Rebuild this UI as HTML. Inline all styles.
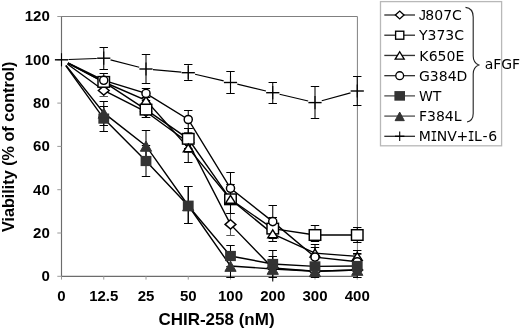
<!DOCTYPE html>
<html><head><meta charset="utf-8"><title>CHIR-258 viability</title>
<style>html,body{margin:0;padding:0;background:#fff}body{width:520px;height:330px;overflow:hidden}svg{display:block}</style></head>
<body>
<svg width="520" height="330" viewBox="0 0 520 330">
<rect width="520" height="330" fill="#fff"/>
<path d="M61.5 16.5H357.4V276.3" stroke="#808080" stroke-width="1" fill="none"/>
<path d="M61.5 16V276.3H357.9" stroke="#6c6c6c" stroke-width="1.15" fill="none"/>
<path d="M57.3 276.3H61.5M57.3 233H61.5M57.3 189.7H61.5M57.3 146.4H61.5M57.3 103.1H61.5M57.3 59.8H61.5M57.3 16.5H61.5M61.5 276.3V279.6M103.75 276.3V279.6M146 276.3V279.6M188.25 276.3V279.6M230.5 276.3V279.6M272.75 276.3V279.6M315 276.3V279.6M357.25 276.3V279.6" stroke="#9a9a9a" stroke-width="1" fill="none"/>
<polyline fill="none" stroke="#000" stroke-width="1.4" points="67.32,64.03 103.75,90.5 146,111.8 188.25,142.5 230.5,224.4 272.75,268 315,271.3 357.25,270"/>
<polyline fill="none" stroke="#000" stroke-width="1.4" points="67.88,63.14 103.75,81.9 146,109.6 188.25,138.8 230.5,199.3 272.75,228.6 315,235 357.25,235"/>
<polyline fill="none" stroke="#000" stroke-width="1.4" points="67.87,63.15 103.75,82 146,100.4 188.25,147.9 230.5,199.3 272.75,233.8 315,253.1 357.25,256.4"/>
<polyline fill="none" stroke="#000" stroke-width="1.4" points="67.98,62.94 103.75,80.3 146,93.4 188.25,119.5 230.5,188.3 272.75,221.6 315,257.1 357.25,261.8"/>
<polyline fill="none" stroke="#000" stroke-width="1.4" points="65.7,65.65 103.75,118.6 146,161 188.25,205.7 230.5,256 272.75,264 315,266.4 357.25,266"/>
<polyline fill="none" stroke="#000" stroke-width="1.4" points="65.98,65.43 103.75,112.9 146,145.9 188.25,205.5 230.5,266 272.75,269 315,271.3 357.25,270"/>
<path fill="none" stroke="#000" stroke-width="1.15" d="M68.49 59.54L96.76 58.46M110.53 59.93L139.22 67.27M152.97 69.61L181.28 72.09M195.07 74.28L223.68 80.92M237.3 84.14L265.95 91.06M279.57 94.3L308.18 101M321.75 100.75L350.5 92.85"/>
<path d="M103.75 84.4V96.1M99.55 84.5H107.95M99.55 96.5H107.95M146 105.5V117.6M141.8 105.5H150.2M141.8 117.5H150.2M188.25 132.5V152.8M184.05 132.5H192.45M184.05 152.5H192.45M230.5 213.2V235.4M226.3 213.5H234.7M226.3 235.5H234.7M272.75 262V272M268.55 262.5H276.95M268.55 272.5H276.95M315 264V276M310.8 264.5H319.2M310.8 276.5H319.2M357.25 254.1V277.3M353.05 254.5H361.45M353.05 277.5H361.45" stroke="#555" stroke-width="1.05" fill="none"/>
<path d="M103.75 76V87.4M99.55 76.5H107.95M99.55 87.5H107.95M146 100.9V117.5M141.8 100.5H150.2M141.8 117.5H150.2M188.25 128.2V148.6M184.05 128.5H192.45M184.05 148.5H192.45M230.5 184.6V213.2M226.3 184.5H234.7M226.3 213.5H234.7M272.75 217.2V241M268.55 217.5H276.95M268.55 241.5H276.95M315 225.4V241.8M310.8 225.5H319.2M310.8 241.5H319.2M357.25 227.5V242.1M353.05 227.5H361.45M353.05 242.5H361.45" stroke="#000" stroke-width="1.05" fill="none"/>
<path d="M146 97V103M141.8 97.5H150.2M141.8 103.5H150.2M188.25 128.2V162M184.05 128.5H192.45M184.05 162.5H192.45M230.5 195V204M226.3 195.5H234.7M226.3 204.5H234.7M272.75 228V238M268.55 228.5H276.95M268.55 238.5H276.95M315 247.4V259.2M310.8 247.5H319.2M310.8 259.5H319.2M357.25 250.2V262.8M353.05 250.5H361.45M353.05 262.5H361.45" stroke="#000" stroke-width="1.05" fill="none"/>
<path d="M103.75 73V87.4M99.55 73.5H107.95M99.55 87.5H107.95M146 88.3V97.7M141.8 88.5H150.2M141.8 97.5H150.2M188.25 110.4V128.2M184.05 110.5H192.45M184.05 128.5H192.45M230.5 172.7V203.7M226.3 172.5H234.7M226.3 203.5H234.7M272.75 205.4V237.2M268.55 205.5H276.95M268.55 237.5H276.95M315 244.8V269M310.8 244.5H319.2M310.8 269.5H319.2M357.25 253.7V269.9M353.05 253.5H361.45M353.05 269.5H361.45" stroke="#000" stroke-width="1.05" fill="none"/>
<path d="M103.75 106V131.4M99.55 106.5H107.95M99.55 131.5H107.95M146 145.6V176.4M141.8 145.5H150.2M141.8 176.5H150.2M188.25 186.9V223.9M184.05 186.5H192.45M184.05 223.5H192.45M230.5 245.4V266.6M226.3 245.5H234.7M226.3 266.5H234.7M272.75 250.5V277.5M268.55 250.5H276.95M268.55 277.5H276.95M315 258V275M310.8 258.5H319.2M310.8 275.5H319.2M357.25 258V274M353.05 258.5H361.45M353.05 274.5H361.45" stroke="#000" stroke-width="1.05" fill="none"/>
<path d="M103.75 101V125.8M99.55 101.5H107.95M99.55 125.5H107.95M146 130.2V162.8M141.8 130.5H150.2M141.8 162.5H150.2M188.25 186.9V223.9M184.05 186.5H192.45M184.05 223.5H192.45M230.5 254.5V277.5M226.3 254.5H234.7M226.3 277.5H234.7M272.75 256V281.4M268.55 256.5H276.95M315 265V277.5M310.8 265.5H319.2M310.8 277.5H319.2M357.25 263V277.5M353.05 263.5H361.45M353.05 277.5H361.45" stroke="#000" stroke-width="1.05" fill="none"/>
<path d="M103.75 47V69.8M99.55 47.5H107.95M99.55 69.5H107.95M146 54.6V83.4M141.8 54.5H150.2M141.8 83.5H150.2M188.25 64.4V80.9M184.05 64.5H192.45M184.05 80.5H192.45M230.5 71.2V93.7M226.3 71.5H234.7M226.3 93.5H234.7M272.75 82.1V103.3M268.55 82.5H276.95M268.55 103.5H276.95M315 86.9V118.8M310.8 86.5H319.2M310.8 118.5H319.2M357.25 76V105.7M353.05 76.5H361.45M353.05 105.5H361.45" stroke="#000" stroke-width="1.05" fill="none"/>
<path d="M98.35 90.5L103.75 85.9L109.15 90.5L103.75 95.1Z" fill="#fff" stroke="#000" stroke-width="1.45"/>
<path d="M140.6 111.8L146 107.2L151.4 111.8L146 116.4Z" fill="#fff" stroke="#000" stroke-width="1.45"/>
<path d="M182.85 142.5L188.25 137.9L193.65 142.5L188.25 147.1Z" fill="#fff" stroke="#000" stroke-width="1.45"/>
<path d="M225.1 224.4L230.5 219.8L235.9 224.4L230.5 229Z" fill="#fff" stroke="#000" stroke-width="1.45"/>
<path d="M267.35 268L272.75 263.4L278.15 268L272.75 272.6Z" fill="#fff" stroke="#000" stroke-width="1.45"/>
<path d="M309.6 271.3L315 266.7L320.4 271.3L315 275.9Z" fill="#fff" stroke="#000" stroke-width="1.45"/>
<path d="M351.85 270L357.25 265.4L362.65 270L357.25 274.6Z" fill="#fff" stroke="#000" stroke-width="1.45"/>
<rect x="98" y="76.6" width="11.5" height="10.6" fill="#fff" stroke="#000" stroke-width="1.45"/>
<rect x="140.25" y="104.3" width="11.5" height="10.6" fill="#fff" stroke="#000" stroke-width="1.45"/>
<rect x="182.5" y="133.5" width="11.5" height="10.6" fill="#fff" stroke="#000" stroke-width="1.45"/>
<rect x="224.75" y="194" width="11.5" height="10.6" fill="#fff" stroke="#000" stroke-width="1.45"/>
<rect x="267" y="223.3" width="11.5" height="10.6" fill="#fff" stroke="#000" stroke-width="1.45"/>
<rect x="309.25" y="229.7" width="11.5" height="10.6" fill="#fff" stroke="#000" stroke-width="1.45"/>
<rect x="351.5" y="229.7" width="11.5" height="10.6" fill="#fff" stroke="#000" stroke-width="1.45"/>
<path d="M146 96.5L150.9 104.3L141.1 104.3Z" fill="#fff" stroke="#000" stroke-width="1.45"/>
<path d="M188.25 144L193.15 151.8L183.35 151.8Z" fill="#fff" stroke="#000" stroke-width="1.45"/>
<path d="M230.5 195.4L235.4 203.2L225.6 203.2Z" fill="#fff" stroke="#000" stroke-width="1.45"/>
<path d="M272.75 229.9L277.65 237.7L267.85 237.7Z" fill="#fff" stroke="#000" stroke-width="1.45"/>
<path d="M315 249.2L319.9 257L310.1 257Z" fill="#fff" stroke="#000" stroke-width="1.45"/>
<path d="M357.25 252.5L362.15 260.3L352.35 260.3Z" fill="#fff" stroke="#000" stroke-width="1.45"/>
<ellipse cx="103.75" cy="80.3" rx="4.05" ry="4.05" fill="#fff" stroke="#000" stroke-width="1.45"/>
<ellipse cx="146" cy="93.4" rx="4.05" ry="4.05" fill="#fff" stroke="#000" stroke-width="1.45"/>
<ellipse cx="188.25" cy="119.5" rx="4.05" ry="4.05" fill="#fff" stroke="#000" stroke-width="1.45"/>
<ellipse cx="230.5" cy="188.3" rx="4.05" ry="4.05" fill="#fff" stroke="#000" stroke-width="1.45"/>
<ellipse cx="272.75" cy="221.6" rx="4.05" ry="4.05" fill="#fff" stroke="#000" stroke-width="1.45"/>
<ellipse cx="315" cy="257.1" rx="4.05" ry="4.05" fill="#fff" stroke="#000" stroke-width="1.45"/>
<ellipse cx="357.25" cy="261.8" rx="4.05" ry="4.05" fill="#fff" stroke="#000" stroke-width="1.45"/>
<rect x="98.35" y="113.5" width="10.8" height="10.2" fill="#333"/>
<rect x="140.6" y="155.9" width="10.8" height="10.2" fill="#333"/>
<rect x="182.85" y="200.6" width="10.8" height="10.2" fill="#333"/>
<rect x="225.1" y="250.9" width="10.8" height="10.2" fill="#333"/>
<rect x="267.35" y="258.9" width="10.8" height="10.2" fill="#333"/>
<rect x="309.6" y="261.3" width="10.8" height="10.2" fill="#333"/>
<rect x="351.85" y="260.9" width="10.8" height="10.2" fill="#333"/>
<path d="M103.75 108.05L109.35 118.25L98.15 118.25Z" fill="#333" stroke="#333" stroke-width="1"/>
<path d="M146 141.05L151.6 151.25L140.4 151.25Z" fill="#333" stroke="#333" stroke-width="1"/>
<path d="M188.25 200.65L193.85 210.85L182.65 210.85Z" fill="#333" stroke="#333" stroke-width="1"/>
<path d="M230.5 261.15L236.1 271.35L224.9 271.35Z" fill="#333" stroke="#333" stroke-width="1"/>
<path d="M272.75 264.15L278.35 274.35L267.15 274.35Z" fill="#333" stroke="#333" stroke-width="1"/>
<path d="M315 266.45L320.6 276.65L309.4 276.65Z" fill="#333" stroke="#333" stroke-width="1"/>
<path d="M357.25 265.15L362.85 275.35L351.65 275.35Z" fill="#333" stroke="#333" stroke-width="1"/>
<path d="M54.9 59.8H68.1" stroke="#000" stroke-width="1.4" fill="none"/><path d="M61.5 53.2V66.4" stroke="#000" stroke-width="1.1" fill="none"/>
<path d="M97.15 58.2H110.35" stroke="#000" stroke-width="1.4" fill="none"/><path d="M103.75 51.6V64.8" stroke="#000" stroke-width="1.1" fill="none"/>
<path d="M139.4 69H152.6" stroke="#000" stroke-width="1.4" fill="none"/><path d="M146 62.4V75.6" stroke="#000" stroke-width="1.1" fill="none"/>
<path d="M181.65 72.7H194.85" stroke="#000" stroke-width="1.4" fill="none"/><path d="M188.25 66.1V79.3" stroke="#000" stroke-width="1.1" fill="none"/>
<path d="M223.9 82.5H237.1" stroke="#000" stroke-width="1.4" fill="none"/><path d="M230.5 75.9V89.1" stroke="#000" stroke-width="1.1" fill="none"/>
<path d="M266.15 92.7H279.35" stroke="#000" stroke-width="1.4" fill="none"/><path d="M272.75 86.1V99.3" stroke="#000" stroke-width="1.1" fill="none"/>
<path d="M308.4 102.6H321.6" stroke="#000" stroke-width="1.4" fill="none"/><path d="M315 96V109.2" stroke="#000" stroke-width="1.1" fill="none"/>
<path d="M350.65 91H363.85" stroke="#000" stroke-width="1.4" fill="none"/><path d="M357.25 84.4V97.6" stroke="#000" stroke-width="1.1" fill="none"/>
<g font-family="'Liberation Sans', Arial, sans-serif" font-weight="bold" font-size="15" fill="#000">
<text x="49.8" y="281.1" text-anchor="end">0</text>
<text x="49.8" y="237.8" text-anchor="end">20</text>
<text x="49.8" y="194.5" text-anchor="end">40</text>
<text x="49.8" y="151.2" text-anchor="end">60</text>
<text x="49.8" y="107.9" text-anchor="end">80</text>
<text x="49.8" y="64.6" text-anchor="end">100</text>
<text x="49.8" y="21.3" text-anchor="end">120</text>
<text x="61.5" y="301.3" text-anchor="middle">0</text>
<text x="103.75" y="301.3" text-anchor="middle">12.5</text>
<text x="146" y="301.3" text-anchor="middle">25</text>
<text x="188.25" y="301.3" text-anchor="middle">50</text>
<text x="230.5" y="301.3" text-anchor="middle">100</text>
<text x="272.75" y="301.3" text-anchor="middle">200</text>
<text x="315" y="301.3" text-anchor="middle">300</text>
<text x="357.25" y="301.3" text-anchor="middle">400</text>
</g>
<g font-family="'Liberation Sans', Arial, sans-serif" font-weight="bold" fill="#000">
<text x="216.5" y="324.6" font-size="17" text-anchor="middle">CHIR-258 (nM)</text>
<text transform="translate(14.2,146.8) rotate(-90)" font-size="16.2" text-anchor="middle">Viability (% of control)</text>
</g>
<rect x="380.5" y="1.6" width="121.1" height="144.2" fill="#fff" stroke="#b8b8b8" stroke-width="1.3"/>
<g font-family="'DejaVu Sans', Verdana, sans-serif" font-size="14" fill="#000">
<path d="M384.3 15H415" stroke="#333" stroke-width="1.35"/>
<path d="M395.4 15L399.7 11.1L404 15L399.7 18.9Z" fill="#fff" stroke="#000" stroke-width="1.35"/>
<text x="418.69 425.37 434.27 443.18 452.08" y="20.1"><tspan font-family="'Liberation Sans', Arial, sans-serif" font-size="14.3">J</tspan>807C</text>
<path d="M384.3 35.22H415" stroke="#333" stroke-width="1.35"/>
<rect x="395.6" y="31.22" width="8.2" height="8" fill="#fff" stroke="#000" stroke-width="1.35"/>
<text x="419 427.55 436.46 445.36 454.27" y="40.32">Y373C</text>
<path d="M384.3 55.44H415" stroke="#333" stroke-width="1.35"/>
<path d="M399.7 51.74L404.2 59.14L395.2 59.14Z" fill="#fff" stroke="#000" stroke-width="1.35"/>
<text x="419.26 428.7 437.61 446.51 455.41" y="60.54">K650E</text>
<path d="M384.3 75.66H415" stroke="#333" stroke-width="1.35"/>
<ellipse cx="399.7" cy="75.66" rx="3.9" ry="3.9" fill="#fff" stroke="#000" stroke-width="1.35"/>
<text x="419 429.85 438.75 447.66 456.56" y="80.76">G384D</text>
<path d="M384.3 95.88H415" stroke="#555" stroke-width="1.35"/>
<rect x="394.4" y="91.08" width="10.6" height="9.6" fill="#333"/>
<text x="419 432.85" y="100.98">WT</text>
<path d="M384.3 116.1H415" stroke="#555" stroke-width="1.35"/>
<path d="M399.7 112.05L404.3 120.65L395.1 120.65Z" fill="#333" stroke="#333" stroke-width="1"/>
<text x="419 427.05 435.95 444.86 453.76" y="121.2">F384L</text>
<path d="M384.3 136.32H415" stroke="#333" stroke-width="1.35"/>
<path d="M395 136.32H404.4" stroke="#000" stroke-width="1.4" fill="none"/><path d="M399.7 131.62V141.02" stroke="#000" stroke-width="1.1" fill="none"/>
<text x="418.86 436.7 447.17 456.6 474.09 482.54 488.24" y="141.42">MNV+L-6</text><text font-family="'DejaVu Sans Mono', monospace" text-anchor="middle" transform="translate(433.75 141.42) scale(0.8 1)">I</text><text font-family="'DejaVu Sans Mono', monospace" text-anchor="middle" transform="translate(471.14 141.42) scale(0.8 1)">I</text>
<text x="484.72 493.21 501.26 512.11" y="69">aFGF</text>
</g>
<path d="M465.5 7.4C471 8 473.2 11 473.2 17V56C473.2 61 475 63.5 478.8 65C475 66.5 473.2 69 473.2 74V113.5C473.2 118.5 471.5 121 467 122" fill="none" stroke="#222" stroke-width="1.1"/>
</svg>
</body></html>
